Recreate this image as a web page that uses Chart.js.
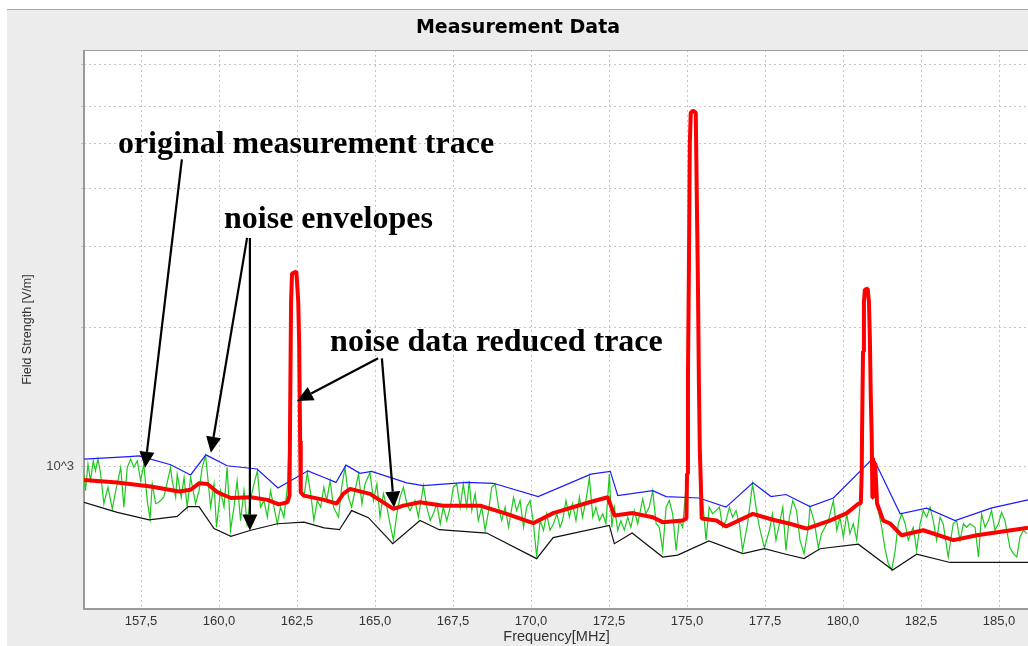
<!DOCTYPE html>
<html><head><meta charset="utf-8">
<script src="https://cdn.jsdelivr.net/npm/chart.js@4/dist/chart.umd.min.js"></script>
<style>
html,body{margin:0;padding:0;background:#fff;overflow:hidden;width:1028px;height:646px;}
#panel{position:absolute;left:7px;top:9px;width:1040px;height:637px;background:#ececec;border-top:1px solid #a8a8a8;}
#wrap{position:absolute;left:7px;top:10px;width:1030px;height:636px;}
</style></head><body>
<div id="panel"></div>
<div id="wrap"><canvas id="c" width="1030" height="636"></canvas></div>
<script>
// ---------- axis ranges / ticks ----------
const X_MIN = 155.673, X_MAX = 185.96;
const Y_MIN = 492.6, Y_MAX = 7962;
const xTicks = [157.5,160,162.5,165,167.5,170,172.5,175,177.5,180,182.5,185];
const yGrid = [1000,2000,3000,4000,5000,6000,7400];
const yLabelled = [1000];

// ---------- original measurement trace (green) ----------
const greenF = [155.67,155.72,155.80,155.88,155.97,156.04,156.12,156.20,156.31,156.44,156.58,156.69,156.85,156.95,157.06,157.17,157.27,157.38,157.49,157.59,157.70,157.79,157.86,157.97,158.07,158.23,158.45,158.50,158.61,158.66,158.79,158.88,158.98,159.09,159.25,159.36,159.46,159.57,159.64,159.73,159.84,159.92,160.05,160.16,160.26,160.37,160.48,160.58,160.69,160.80,160.90,161.01,161.12,161.23,161.33,161.44,161.55,161.65,161.76,161.87,161.97,162.08,162.19,162.28,162.34,162.48,162.57,162.62,162.72,162.83,162.94,163.04,163.15,163.26,163.36,163.45,163.56,163.67,163.83,163.93,164.04,164.15,164.25,164.36,164.47,164.58,164.68,164.84,164.95,165.06,165.16,165.27,165.38,165.48,165.59,165.70,165.80,165.91,166.02,166.12,166.28,166.39,166.55,166.66,166.77,166.87,166.98,167.09,167.19,167.30,167.41,167.51,167.62,167.73,167.83,167.94,168.02,168.10,168.21,168.31,168.42,168.53,168.64,168.74,168.85,168.96,169.06,169.17,169.28,169.44,169.54,169.65,169.76,169.86,169.97,170.08,170.18,170.29,170.40,170.50,170.61,170.72,170.83,170.93,171.01,171.12,171.23,171.33,171.44,171.55,171.65,171.76,171.87,171.98,172.08,172.19,172.30,172.40,172.51,172.59,172.67,172.78,172.88,172.99,173.10,173.20,173.31,173.42,173.58,173.68,173.79,173.90,174.01,174.11,174.22,174.33,174.43,174.54,174.65,174.75,174.86,175.00,175.06,175.12,175.28,175.35,175.41,175.47,175.50,175.61,175.71,175.82,175.93,176.04,176.14,176.25,176.36,176.46,176.57,176.68,176.78,176.94,177.10,177.21,177.32,177.48,177.64,177.74,177.85,177.96,178.07,178.17,178.28,178.39,178.51,178.62,178.75,178.89,178.94,179.07,179.21,179.31,179.42,179.53,179.69,179.80,179.90,180.01,180.12,180.22,180.33,180.44,180.54,180.61,180.67,180.79,180.86,180.92,180.99,181.05,181.13,181.24,181.34,181.45,181.56,181.67,181.77,181.88,181.99,182.09,182.25,182.36,182.47,182.57,182.68,182.79,182.89,183.00,183.11,183.21,183.37,183.53,183.64,183.75,183.86,183.96,184.07,184.23,184.34,184.44,184.55,184.66,184.76,184.87,184.98,185.08,185.19,185.35,185.46,185.57,185.67,185.78,185.89];
const greenV = [960,888,1013,933,1030,980,1039,972,832,903,811,888,997,818,997,1039,997,1030,933,1013,845,772,918,832,838,859,997,933,859,964,859,948,818,948,832,888,997,1056,948,818,918,740,888,818,997,729,818,933,765,888,753,852,918,980,818,845,778,888,818,753,818,778,903,1319,2615,2641,1838,880,859,972,874,765,845,818,903,845,933,818,778,903,997,859,818,888,964,832,918,972,845,918,778,874,818,753,694,791,859,903,832,804,845,778,910,818,765,791,832,753,818,765,818,903,918,818,918,818,933,804,874,765,818,729,804,903,918,818,765,818,740,859,804,845,740,818,845,753,638,765,729,791,729,753,791,740,765,845,778,832,765,859,778,845,948,778,818,765,791,753,964,740,818,729,765,729,778,740,804,753,852,791,818,888,753,740,659,818,845,791,659,765,740,966,2678,5828,5828,2474,1082,773,845,694,818,791,804,818,740,765,818,778,804,753,659,753,918,818,740,668,729,791,694,753,818,659,778,845,804,694,649,740,818,765,668,717,740,765,845,729,778,704,791,717,753,694,818,1195,2275,2427,1894,1154,980,850,804,740,668,618,598,659,753,791,753,694,740,659,753,804,778,818,765,694,778,753,638,753,765,694,753,740,753,740,638,791,740,765,804,729,753,797,765,668,649,638,704,729,717];

// ---------- noise envelopes ----------
const blueF = [155.67,157.12,157.44,158.45,159.09,159.58,160.26,161.22,161.89,162.85,163.37,163.75,164.07,164.52,164.89,166.02,166.54,167.94,168.79,170.23,171.92,172.54,172.78,173.90,174.33,175.38,176.25,177.11,177.69,178.17,178.94,179.69,180.97,181.83,182.68,183.59,184.77,185.93];
const blueV = [1039,1052,1056,1010,960,1061,1005,989,900,980,948,925,1008,968,977,923,910,925,921,862,964,977,866,888,862,856,818,923,862,871,820,856,1044,791,814,765,815,848];
const blackF = [155.67,156.74,157.76,158.66,159.01,159.36,159.84,160.38,161.02,161.87,162.72,163.37,163.86,164.25,164.79,165.57,166.44,167.06,168.58,170.18,170.71,172.51,172.67,173.24,174.22,174.70,175.70,176.79,177.48,178.17,178.75,179.26,180.49,181.59,182.36,183.43,185.93];
const blackV = [838,797,768,781,820,820,735,707,729,753,759,738,731,804,776,682,765,731,719,633,703,747,682,719,638,644,691,649,665,647,633,665,680,598,647,621,621];

// ---------- noise data reduced trace (red) ----------
const redF = [155.67,156.74,157.81,158.72,159.09,159.36,159.63,159.95,160.38,161.02,161.55,161.92,162.19,162.26,162.28,162.31,162.34,162.48,162.54,162.57,162.60,162.62,162.72,163.37,163.77,163.98,164.20,164.84,165.59,165.91,166.44,167.19,168.37,169.22,170.07,170.71,171.87,172.46,172.67,173.26,173.90,174.22,174.86,174.98,175.00,175.03,175.06,175.09,175.12,175.19,175.28,175.31,175.35,175.38,175.41,175.44,175.47,175.94,176.25,177.11,177.75,178.30,178.84,179.58,180.12,180.49,180.57,180.60,180.61,180.64,180.67,180.70,180.79,180.83,180.86,180.89,180.92,180.94,180.96,180.99,181.01,181.03,181.09,181.29,181.51,181.88,182.57,183.54,184.29,185.93];
const redV = [936,925,906,884,892,921,918,881,856,859,848,829,838,866,1319,2275,2615,2641,2275,1838,1137,880,866,848,832,874,896,874,811,824,838,824,824,791,755,794,838,859,785,794,778,759,765,773,966,1585,2678,5024,5828,5884,5828,3981,2474,1531,1082,933,773,765,743,791,768,753,735,765,794,832,834,980,1195,1776,2275,2415,2427,2275,1894,1407,1154,858,1045,980,888,1020,833,765,754,711,729,694,711,738];

// ---------- annotations (anchored in data coordinates) ----------
const noteText = ['original measurement trace','noise envelopes','noise data reduced trace'];
const noteF = [156.76,160.16,163.56];
const noteV = [4975,3415,1857];
const arrowFromF = [158.81,160.90,160.99,165.10,165.22];
const arrowFromV = [4618,3124,3124,1716,1716];
const arrowToF   = [157.63,159.74,160.99,162.50,165.61];
const arrowToV   = [995,1072,728,1387,816];

const zip = (a,b) => a.map((v,i) => ({x:v, y:b[i]}));

const framePlugin = {
  id:'frame',
  beforeDraw(chart){
    const {ctx, chartArea:a} = chart;
    ctx.save(); ctx.fillStyle='#ffffff';
    ctx.fillRect(a.left, a.top, a.right-a.left, a.bottom-a.top);
    ctx.restore();
  },
  beforeDatasetsDraw(chart){
    const {ctx, chartArea:a} = chart;
    ctx.save();
    ctx.strokeStyle='#a0a0a0'; ctx.lineWidth=1;
    ctx.beginPath(); ctx.moveTo(a.left, a.top+0.5); ctx.lineTo(a.right+20, a.top+0.5); ctx.stroke();
    ctx.strokeStyle='#9a9a9a'; ctx.lineWidth=2;
    ctx.beginPath(); ctx.moveTo(a.left, a.top); ctx.lineTo(a.left, a.bottom); ctx.lineTo(a.right+20, a.bottom); ctx.stroke();
    ctx.restore();
  }
};

const notePlugin = {
  id:'notes',
  afterDatasetsDraw(chart){
    const {ctx} = chart; const sx = chart.scales.x, sy = chart.scales.y;
    ctx.save();
    ctx.fillStyle='#000'; ctx.font='bold 32px "Liberation Serif", "Times New Roman", serif';
    ctx.textBaseline='middle'; ctx.textAlign='left';
    noteText.forEach((t,i)=> ctx.fillText(t, sx.getPixelForValue(noteF[i]), sy.getPixelForValue(noteV[i])));
    ctx.strokeStyle='#000'; ctx.lineWidth=2.2;
    for (let i=0;i<arrowFromF.length;i++){
      const x0=sx.getPixelForValue(arrowFromF[i]), y0=sy.getPixelForValue(arrowFromV[i]);
      const x1=sx.getPixelForValue(arrowToF[i]), y1=sy.getPixelForValue(arrowToV[i]);
      const ang=Math.atan2(y1-y0,x1-x0), L=16, W=7.5;
      const bx=x1-L*Math.cos(ang), by=y1-L*Math.sin(ang);
      ctx.beginPath(); ctx.moveTo(x0,y0); ctx.lineTo(bx,by); ctx.stroke();
      ctx.beginPath(); ctx.moveTo(x1,y1);
      ctx.lineTo(bx+W*Math.sin(ang), by-W*Math.cos(ang));
      ctx.lineTo(bx-W*Math.sin(ang), by+W*Math.cos(ang));
      ctx.closePath(); ctx.fill();
    }
    ctx.restore();
  }
};

new Chart(document.getElementById('c'), {
  type:'line',
  data:{ datasets:[
    {label:'noise data reduced trace', data:zip(redF,redV), borderColor:'#ff0000', borderWidth:4, pointRadius:0, tension:0, order:0, borderJoinStyle:'bevel'},
    {label:'upper envelope', data:zip(blueF,blueV), borderColor:'#1a1aff', borderWidth:1.2, pointRadius:0, tension:0, order:1},
    {label:'lower envelope', data:zip(blackF,blackV), borderColor:'#101010', borderWidth:1.2, pointRadius:0, tension:0, order:2},
    {label:'original measurement trace', data:zip(greenF,greenV), borderColor:'#1ec81e', borderWidth:1.2, pointRadius:0, tension:0, order:3}
  ]},
  options:{
    responsive:false, animation:false, devicePixelRatio:1,
    layout:{padding:{left:0,right:8,top:0,bottom:0}},
    plugins:{
      legend:{display:false}, tooltip:{enabled:false},
      title:{display:true, text:'Measurement Data', color:'#000',
        font:{family:'"DejaVu Sans", sans-serif', size:19, weight:'bold'}, padding:{top:6.6, bottom:10.6}}
    },
    scales:{
      x:{type:'linear', min:X_MIN, max:X_MAX, bounds:'data',
        afterBuildTicks:s=>{ s.ticks = xTicks.map(v=>({value:v})); },
        afterFit:s=>{ s.height = 37; },
        ticks:{autoSkip:false, maxRotation:0, padding:5, color:'#333',
          font:{family:'"Liberation Sans", Arial, sans-serif', size:13},
          callback:v=>Number(v).toFixed(1).replace('.', ',')},
        grid:{color:'#c4c4c4', drawTicks:false, lineWidth:1},
        border:{display:false, dash:[2,3]},
        title:{display:true, text:'Frequency[MHz]', color:'#333',
          font:{family:'"Liberation Sans", Arial, sans-serif', size:14.5}, padding:{top:0,bottom:0}}
      },
      y:{type:'logarithmic', min:Y_MIN, max:Y_MAX, bounds:'data',
        afterBuildTicks:s=>{ s.ticks = yGrid.map(v=>({value:v})); },
        afterFit:s=>{ s.width = 77; },
        ticks:{autoSkip:false, padding:7, color:'#444',
          font:{family:'"Liberation Sans", Arial, sans-serif', size:13},
          callback:v=> yLabelled.includes(v) ? '10^3' : ''},
        grid:{color:'#c4c4c4', drawTicks:true, tickLength:3, lineWidth:1},
        border:{display:false, dash:[2,3]},
        title:{display:true, text:'Field Strength [V/m]', color:'#333',
          font:{family:'"Liberation Sans", Arial, sans-serif', size:12.5}, padding:{top:13,bottom:0}}
      }
    }
  },
  plugins:[framePlugin, notePlugin]
});
</script>
</body></html>
